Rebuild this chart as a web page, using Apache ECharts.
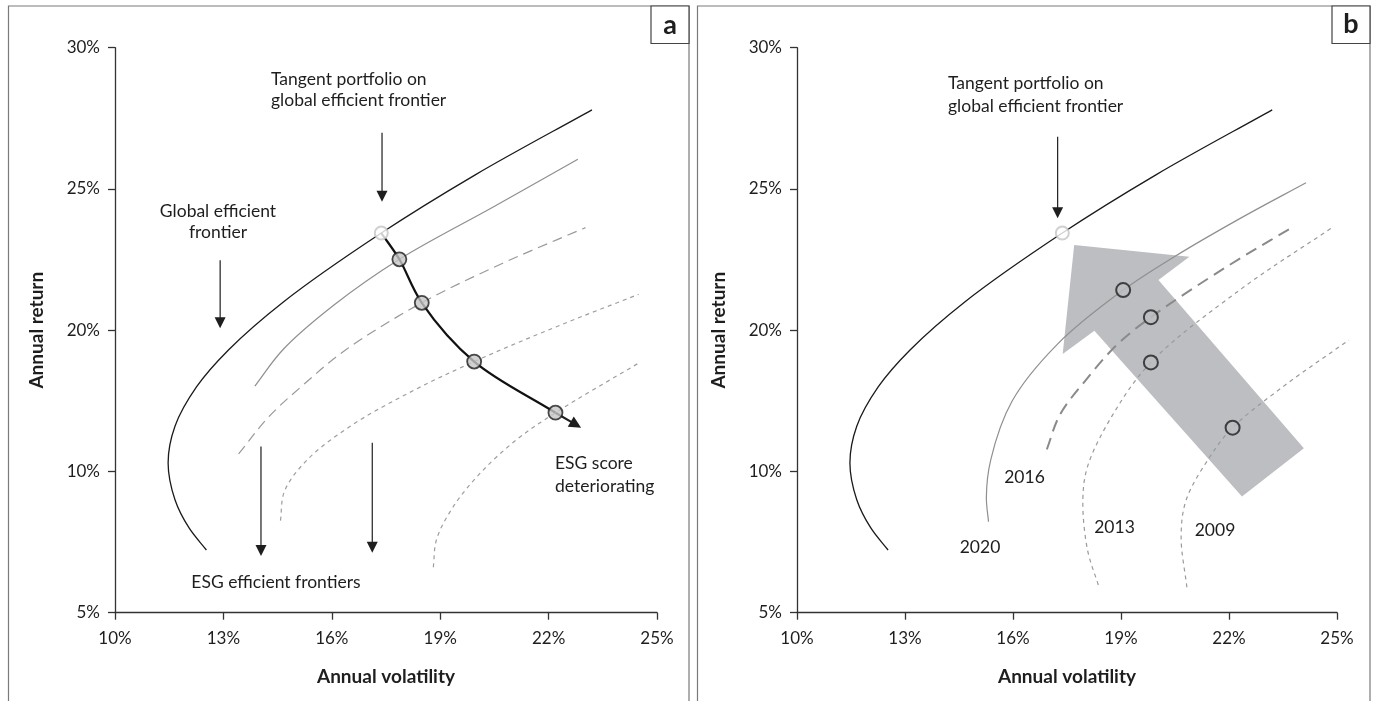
<!DOCTYPE html>
<html>
<head>
<meta charset="utf-8">
<script src="https://cdn.jsdelivr.net/npm/echarts@6/dist/echarts.min.js"></script>
<style>
  html, body { margin: 0; padding: 0; background: #fff; }
  #chart { width: 1375px; height: 701px; }
</style>
</head>
<body>
<div id="chart"></div>
<script>
// ---- Tick labels ----
const xTickLabels = ['10%', '13%', '16%', '19%', '22%', '25%'];
const yTickLabels = ['5%', '10%', '20%', '25%', '30%'];

// ---- Shared: global efficient frontier and its tangent portfolio [volatility, return] ----
const globalFrontier = [[12.53, 12.22], [12.05, 13.0], [11.66, 14.0], [11.47, 15.3], [11.66, 16.6], [12.26, 18.0],
  [13.14, 19.3], [14.66, 21.0], [17.37, 23.44], [19.97, 25.5], [23.2, 27.8]];
const tangentPortfolio = [[17.37, 23.44]];

// ---- Panel a: ESG efficient frontiers ----
const esgFrontierA1 = [[13.87, 18.02], [14.64, 19.30], [16.06, 20.89], [17.87, 22.51], [20.48, 24.37], [22.81, 26.05]];
const esgFrontierA2 = [[13.42, 15.62], [14.26, 16.94], [15.26, 18.12], [16.38, 19.30], [18.49, 20.97], [20.73, 22.37], [23.02, 23.63]];
const esgFrontierA3 = [[14.58, 13.26], [14.69, 14.3], [15.31, 15.4], [16.51, 16.6], [18.16, 17.8], [19.94, 18.89], [22.17, 20.1], [24.49, 21.27]];
const esgFrontierA4 = [[18.81, 11.61], [18.9, 12.6], [19.36, 13.75], [20.10, 14.93], [21.10, 16.11], [22.19, 17.08], [24.51, 18.85]];
const esgTangentsA = [[17.87, 22.51], [18.49, 20.97], [19.94, 18.89], [22.19, 17.08]];
const deteriorationPathA = [[17.37, 23.44], [17.87, 22.51], [18.49, 20.97], [19.94, 18.89], [22.19, 17.08]];
// arrows: [x from, y from, x to, y to]
const deteriorationArrowA = [[22.19, 17.08, 22.9, 16.55]];
const noteArrowsA = [[17.39, 26.99, 17.39, 24.55], [12.91, 22.48, 12.91, 20.07],
  [14.04, 15.88, 14.04, 12.01], [17.12, 16.02, 17.12, 12.12]];

// ---- Panel b: ESG frontiers by year ----
const frontier2020 = [[15.32, 13.22], [15.26, 14.1], [15.38, 15.4], [15.98, 17.5], [17.23, 19.5], [19.06, 21.42], [20.48, 22.6], [22.3, 23.95], [24.14, 25.22]];
const frontier2016 = [[16.94, 15.78], [17.3, 17.0], [18.0, 18.2], [18.9, 19.5], [19.83, 20.46], [21.94, 22.25], [23.74, 23.63]];
const frontier2013 = [[18.37, 10.98], [18.07, 12.22], [17.94, 13.99], [18.07, 15.17], [18.74, 16.94], [19.83, 18.86], [22.36, 21.48], [24.90, 23.66]];
const frontier2009 = [[20.83, 10.90], [20.67, 12.69], [20.81, 13.99], [21.47, 15.52], [22.10, 16.55], [23.5, 18.0], [25.33, 19.65]];
const yearTangentsB = [[19.06, 21.42], [19.83, 20.46], [19.83, 18.86], [22.10, 16.55]];
const improvementArrowB = [[17.70, 23.02], [20.90, 22.60], [20.04, 21.78], [24.08, 15.82], [22.36, 14.11], [18.26, 19.98], [17.38, 19.16]];
const noteArrowsB = [[17.24, 26.85, 17.24, 23.96]];

const FONT = 'Lato, "Open Sans", sans-serif';
const INK = '#1e1e1e';
const NOTE_FONT = '17.5px ' + FONT;

// Centripetal Catmull-Rom spline through pixel points, as an SVG path string
function splinePath(pts) {
  if (pts.length < 2) return '';
  const n = pts.length;
  const get = i => {
    if (i < 0) return [2 * pts[0][0] - pts[1][0], 2 * pts[0][1] - pts[1][1]];
    if (i >= n) return [2 * pts[n - 1][0] - pts[n - 2][0], 2 * pts[n - 1][1] - pts[n - 2][1]];
    return pts[i];
  };
  const dist = (a, b) => Math.max(Math.sqrt(Math.hypot(b[0] - a[0], b[1] - a[1])), 1e-6);
  let d = 'M' + pts[0][0] + ' ' + pts[0][1];
  for (let i = 0; i < n - 1; i++) {
    const p0 = get(i - 1), p1 = get(i), p2 = get(i + 1), p3 = get(i + 2);
    const d1 = dist(p0, p1), d2 = dist(p1, p2), d3 = dist(p2, p3);
    const c1 = [0, 1].map(k => (d1 * d1 * p2[k] - d2 * d2 * p0[k] + (2 * d1 * d1 + 3 * d1 * d2 + d2 * d2) * p1[k]) / (3 * d1 * (d1 + d2)));
    const c2 = [0, 1].map(k => (d3 * d3 * p1[k] - d2 * d2 * p3[k] + (2 * d3 * d3 + 3 * d3 * d2 + d2 * d2) * p2[k]) / (3 * d3 * (d3 + d2)));
    d += ' C' + c1[0] + ' ' + c1[1] + ' ' + c2[0] + ' ' + c2[1] + ' ' + p2[0] + ' ' + p2[1];
  }
  return d;
}

function curve(data, gi, color, width, dash, z) {
  return {
    type: 'custom', data: data, xAxisIndex: gi, yAxisIndex: gi, clip: false, silent: true, z: z || 2,
    encode: { x: 0, y: 1 },
    renderItem: (params, api) => {
      if (params.dataIndex !== 0) return null;
      const px = data.map(p => api.coord(p));
      return {
        type: 'path',
        shape: { pathData: splinePath(px) },
        style: { fill: null, stroke: color, lineWidth: width, lineDash: dash || null, lineCap: 'butt' }
      };
    }
  };
}

function arrowRenderer(lineWidth, headLen, headHalf) {
  return function (params, api) {
    const p1 = api.coord([api.value(0), api.value(1)]);
    const p2 = api.coord([api.value(2), api.value(3)]);
    const dx = p2[0] - p1[0], dy = p2[1] - p1[1];
    const len = Math.hypot(dx, dy) || 1;
    const ux = dx / len, uy = dy / len;
    const bx = p2[0] - ux * headLen, by = p2[1] - uy * headLen;
    return {
      type: 'group',
      children: [
        { type: 'line', shape: { x1: p1[0], y1: p1[1], x2: bx + ux, y2: by + uy }, style: { stroke: INK, lineWidth: lineWidth } },
        { type: 'polygon', shape: { points: [[p2[0], p2[1]], [bx - uy * headHalf, by + ux * headHalf], [bx + uy * headHalf, by - ux * headHalf]] }, style: { fill: INK } }
      ]
    };
  };
}

function axesFor(gridIndex) {
  const x = {
    type: 'value', gridIndex: gridIndex, min: 10, max: 25, interval: 3,
    name: 'Annual volatility', nameLocation: 'middle', nameGap: 55,
    nameTextStyle: { fontFamily: FONT, fontWeight: 'bold', fontSize: 19, color: INK },
    axisLine: { show: true, lineStyle: { color: '#333', width: 1.3 } },
    axisTick: { show: true, length: 7, lineStyle: { color: '#333', width: 1.3 } },
    axisLabel: { margin: 17, fontFamily: FONT, fontSize: 17, color: INK,
      formatter: v => xTickLabels[Math.round((v - 10) / 3)] },
    splitLine: { show: false }
  };
  const y = {
    type: 'value', gridIndex: gridIndex, min: 10, max: 30, interval: 5,
    name: 'Annual return', nameLocation: 'middle', nameGap: 69, nameRotate: 90,
    nameTextStyle: { fontFamily: FONT, fontWeight: 'bold', fontSize: 19, color: INK },
    axisLine: { show: true, lineStyle: { color: '#333', width: 1.3 } },
    axisTick: { show: true, length: 7, lineStyle: { color: '#333', width: 1.3 } },
    axisLabel: { margin: 15, fontFamily: FONT, fontSize: 17, color: INK,
      formatter: v => yTickLabels[Math.round((v - 10) / 5)] },
    splitLine: { show: false }
  };
  return { x, y };
}

const axA = axesFor(0), axB = axesFor(1);

function textEl(x, y, text, opts) {
  return {
    type: 'text', x: x, y: y, z: 100, silent: true,
    style: Object.assign({ text: text, fill: INK, font: NOTE_FONT, align: 'center', verticalAlign: 'middle' }, opts || {})
  };
}

const option = {
  animation: false,
  backgroundColor: '#fff',
  grid: [
    { left: 115, top: 47.7, width: 542, height: 565, containLabel: false },
    { left: 797, top: 47.7, width: 540, height: 565, containLabel: false }
  ],
  xAxis: [axA.x, axB.x],
  yAxis: [axA.y, axB.y],
  series: [
    // panel a
    curve(globalFrontier, 0, '#1a1a1a', 1.3),
    curve(esgFrontierA1, 0, '#8f8f8f', 1.2),
    curve(esgFrontierA2, 0, '#999', 1.2, [10, 6]),
    curve(esgFrontierA3, 0, '#9e9e9e', 1.2, [4, 4]),
    curve(esgFrontierA4, 0, '#9e9e9e', 1.2, [4, 4]),
    curve(deteriorationPathA, 0, '#111', 2.2, null, 3),
    { type: 'custom', xAxisIndex: 0, yAxisIndex: 0, data: deteriorationArrowA, z: 3, silent: true, clip: false,
      renderItem: arrowRenderer(2.2, 12, 6), encode: { x: [0, 2], y: [1, 3] } },
    { type: 'custom', xAxisIndex: 0, yAxisIndex: 0, data: noteArrowsA, z: 3, silent: true, clip: false,
      renderItem: arrowRenderer(1.2, 11, 5.5), encode: { x: [0, 2], y: [1, 3] } },
    { type: 'scatter', xAxisIndex: 0, yAxisIndex: 0, data: esgTangentsA, symbolSize: 14, z: 5, silent: true,
      itemStyle: { color: '#c6c6c6', borderColor: '#1e1e1e', borderWidth: 1.8 } },
    { type: 'scatter', xAxisIndex: 0, yAxisIndex: 0, data: tangentPortfolio, symbolSize: 13, z: 5, silent: true,
      itemStyle: { color: '#fff', borderColor: '#c4c4c4', borderWidth: 2 } },

    // panel b
    { type: 'custom', xAxisIndex: 1, yAxisIndex: 1, data: improvementArrowB, z: 1, silent: true, clip: false,
      encode: { x: 0, y: 1 },
      renderItem: (params, api) => params.dataIndex === 0 ? {
        type: 'polygon',
        shape: { points: improvementArrowB.map(p => api.coord(p)) },
        style: { fill: '#bdbec1' }
      } : null },
    curve(globalFrontier, 1, '#1a1a1a', 1.3),
    curve(frontier2020, 1, '#8f8f8f', 1.2),
    curve(frontier2016, 1, '#8a8a8a', 2, [12, 7]),
    curve(frontier2013, 1, '#9a9a9a', 1.2, [4, 4]),
    curve(frontier2009, 1, '#9a9a9a', 1.2, [4, 4]),
    { type: 'custom', xAxisIndex: 1, yAxisIndex: 1, data: noteArrowsB, z: 3, silent: true, clip: false,
      renderItem: arrowRenderer(1.2, 11, 5.5), encode: { x: [0, 2], y: [1, 3] } },
    { type: 'scatter', xAxisIndex: 1, yAxisIndex: 1, data: yearTangentsB, symbolSize: 14, z: 5, silent: true,
      itemStyle: { color: '#bdbec1', borderColor: '#1e1e1e', borderWidth: 2 } },
    { type: 'scatter', xAxisIndex: 1, yAxisIndex: 1, data: tangentPortfolio, symbolSize: 13, z: 5, silent: true,
      itemStyle: { color: '#fff', borderColor: '#c4c4c4', borderWidth: 2 } }
  ],
  graphic: [
    // panel frames and letter boxes
    { type: 'rect', shape: { x: 8.5, y: 6, width: 680.5, height: 720 }, style: { fill: 'none', stroke: '#7a7a7a', lineWidth: 1.2 }, silent: true },
    { type: 'rect', shape: { x: 697.5, y: 6, width: 672.5, height: 720 }, style: { fill: 'none', stroke: '#7a7a7a', lineWidth: 1.2 }, silent: true },
    { type: 'rect', shape: { x: 651, y: 6, width: 38, height: 37.5 }, style: { fill: '#fff', stroke: '#444', lineWidth: 1.2 }, silent: true },
    { type: 'rect', shape: { x: 1332, y: 6, width: 38, height: 37.5 }, style: { fill: '#fff', stroke: '#444', lineWidth: 1.2 }, silent: true },
    textEl(670, 25, 'a', { font: 'bold 27px ' + FONT }),
    textEl(1351, 24, 'b', { font: 'bold 27px ' + FONT }),

    // panel a notes
    textEl(271, 79, 'Tangent portfolio on', { align: 'left' }),
    textEl(271, 100.5, 'global efficient frontier', { align: 'left' }),
    textEl(218, 211, 'Global efficient'),
    textEl(218, 232, 'frontier'),
    textEl(555, 463.5, 'ESG score', { align: 'left' }),
    textEl(555, 486, 'deteriorating', { align: 'left' }),
    textEl(276, 582.5, 'ESG efficient frontiers'),

    // panel b notes
    textEl(948, 83.5, 'Tangent portfolio on', { align: 'left' }),
    textEl(948, 106, 'global efficient frontier', { align: 'left' }),
    textEl(1024.5, 477, '2016'),
    textEl(980, 547.5, '2020'),
    textEl(1114.5, 527.5, '2013'),
    textEl(1215, 530, '2009')
  ]
};

const chart = echarts.init(document.getElementById('chart'), null, { renderer: 'canvas' });
chart.setOption(option);
</script>
</body>
</html>
